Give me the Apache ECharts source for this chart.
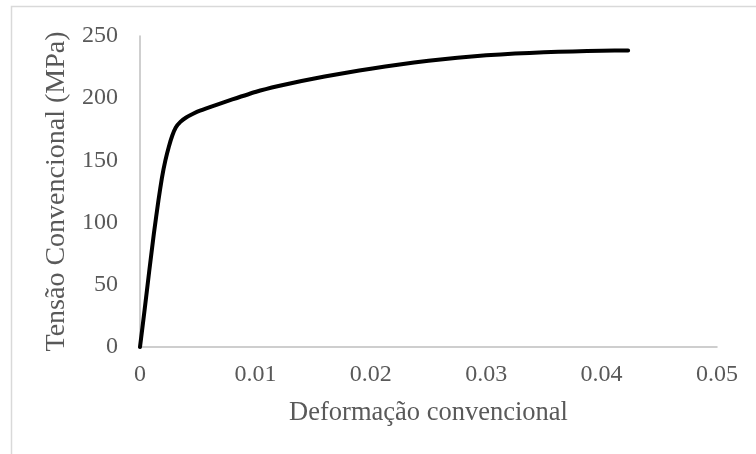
<!DOCTYPE html>
<html>
<head>
<meta charset="utf-8">
<script src="https://cdn.jsdelivr.net/npm/echarts@6/dist/echarts.min.js"></script>
<style>
  html, body { margin: 0; padding: 0; background: #ffffff; }
  #chart { width: 756px; height: 454px; }
</style>
</head>
<body>
<div id="chart"></div>
<script>
// Engineering stress-strain curve (tensile test)
const strain = [0, 0.0004, 0.0008, 0.0012, 0.0016, 0.0019, 0.0022, 0.0025, 0.0028, 0.0031, 0.0035,
  0.0040, 0.0046, 0.0052, 0.0065, 0.0080, 0.0100, 0.0120, 0.0140, 0.0160, 0.0180, 0.0200,
  0.0225, 0.0250, 0.0275, 0.0300, 0.0325, 0.0350, 0.0375, 0.0400, 0.0423];
const stress = [0, 30, 61, 91, 118, 136, 150, 161, 170, 176.5, 181,
  184.5, 187.5, 190, 194.3, 199, 205, 209.8, 213.8, 217.4, 220.7, 223.7,
  227.1, 230.1, 232.6, 234.5, 235.9, 236.9, 237.6, 238.1, 238.4];

const xTicks = [0, 0.01, 0.02, 0.03, 0.04, 0.05];
const yTicks = [0, 50, 100, 150, 200, 250];

const xTitle = 'Deformação convencional';
const yTitle = 'Tensão Convencional (MPa)';

const FONT = '"Liberation Serif", "Times New Roman", serif';
const TEXT = '#595959';
const AXIS = '#bfbfbf';

const chart = echarts.init(document.getElementById('chart'), null, { renderer: 'canvas' });

chart.setOption({
  animation: false,
  backgroundColor: '#ffffff',
  graphic: [{
    type: 'rect',
    shape: { x: 11.5, y: 6.5, width: 800, height: 500 },
    style: { fill: 'none', stroke: '#d9d9d9', lineWidth: 1.5 },
    silent: true
  }],
  grid: { left: 140, right: 39, top: 36, bottom: 107, containLabel: false },
  xAxis: {
    type: 'value',
    min: xTicks[0],
    max: xTicks[xTicks.length - 1],
    interval: 0.01,
    name: xTitle,
    nameLocation: 'middle',
    nameGap: 53,
    nameTextStyle: { fontFamily: FONT, fontSize: 26.5, color: TEXT },
    axisLine: { show: true, onZero: false, lineStyle: { color: AXIS, width: 1.5 } },
    axisTick: { show: false },
    splitLine: { show: false },
    axisLabel: {
      fontFamily: FONT, fontSize: 24, color: TEXT, margin: 16,
      formatter: v => String(Math.round(v * 100) / 100)
    }
  },
  yAxis: {
    type: 'value',
    min: yTicks[0],
    max: yTicks[yTicks.length - 1],
    interval: 50,
    name: yTitle,
    nameLocation: 'middle',
    nameGap: 62,
    nameRotate: 90,
    nameTextStyle: { fontFamily: FONT, fontSize: 28, color: TEXT },
    axisLine: { show: true, lineStyle: { color: AXIS, width: 1.5 } },
    axisTick: { show: false },
    splitLine: { show: false },
    axisLabel: { fontFamily: FONT, fontSize: 24, color: TEXT, margin: 22 }
  },
  series: [{
    type: 'line',
    data: strain.map((x, i) => [x, stress[i]]),
    showSymbol: false,
    smooth: 0.15,
    lineStyle: { color: '#000000', width: 4, cap: 'round', join: 'round' }
  }]
});
</script>
</body>
</html>
